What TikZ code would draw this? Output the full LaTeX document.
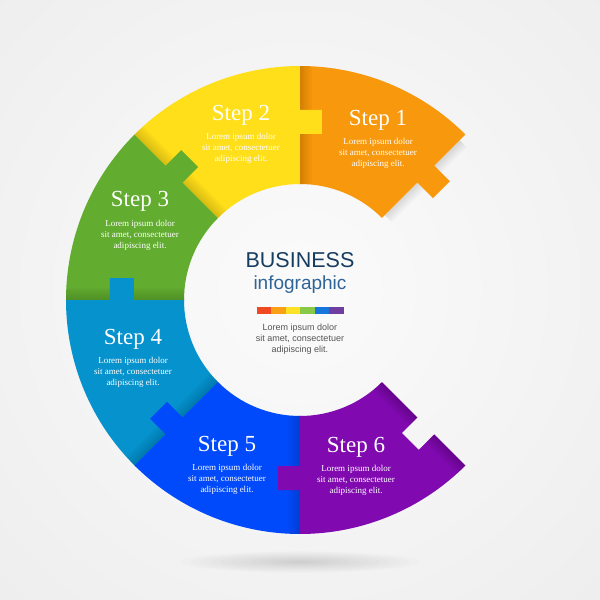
\documentclass[tikz,border=0pt]{standalone}
\usepackage{fontspec}
\setmainfont{Liberation Serif}
\newfontfamily\bizsans{Liberation Sans}
\usetikzlibrary{calc}
\definecolor{cOrange}{RGB}{248,152,12}
\definecolor{cYellow}{RGB}{255,222,26}
\definecolor{cGreen}{RGB}{98,172,48}
\definecolor{cLBlue}{RGB}{6,146,204}
\definecolor{cBlue}{RGB}{0,74,252}
\definecolor{cPurple}{RGB}{128,10,176}
\definecolor{bgCenter}{RGB}{251,251,251}
\definecolor{bgEdge}{RGB}{234,234,234}
\definecolor{tBiz}{RGB}{22,60,96}
\definecolor{tInfo}{RGB}{46,100,150}
\definecolor{tGray}{RGB}{85,85,85}
\definecolor{b1}{RGB}{240,72,32}
\definecolor{b2}{RGB}{250,160,22}
\definecolor{b3}{RGB}{255,226,40}
\definecolor{b4}{RGB}{138,200,72}
\definecolor{b5}{RGB}{22,118,222}
\definecolor{b6}{RGB}{112,62,160}
\newcommand\segfill[2]{%
  \fill[#2] (#1:116pt) -- (#1:166pt) -- ($(#1:166pt)+(#1-90:22pt)$) -- ($(#1:190pt)+(#1-90:22pt)$) -- (#1:190pt) -- (#1:234pt)
    arc[start angle=#1, end angle=#1+45.6, radius=234pt] -- (#1+45.6:116pt)
    arc[start angle=#1+45.6, end angle=#1, radius=116pt] -- cycle;}
\newcommand\sectorclip[1]{%
  \clip (#1:116pt) -- (#1:234pt) arc[start angle=#1, end angle=#1+45, radius=234pt] -- (#1+45:116pt)
    arc[start angle=#1+45, end angle=#1, radius=116pt] -- cycle;}
\newcommand\edgestrips[3]{% line angle, opacity, count
  \foreach \k [evaluate=\k as \dd using 2*\k] in {1,...,#3} {
    \fill[black, opacity=#2] (#1:100pt) -- (#1:250pt) -- ($(#1:250pt)+(#1-90:\dd pt)$) -- ($(#1:100pt)+(#1-90:\dd pt)$) -- cycle;}}
\tikzset{
  steptitle/.style={text=white, font=\fontsize{23}{23}\selectfont, anchor=base, inner sep=0pt},
  steptext/.style={text=white, font=\fontsize{9}{11}\selectfont, align=center, inner sep=0pt},
  bartile/.style={minimum width=14.5pt, minimum height=7pt, inner sep=0pt, anchor=west}
}
\begin{document}
\begin{tikzpicture}[x=1pt,y=1pt]
\useasboundingbox (-300,-300) rectangle (300,300);
% background
\fill[bgEdge] (-300,-300) rectangle (300,300);
\shade[inner color=bgCenter, outer color=bgEdge] (0,10) circle (560pt);
% ground shadow
\foreach \k in {1,...,12}
  \fill[black, opacity=0.011] (0,-262) ellipse ({10*\k pt} and {0.9*\k pt});
% curl shadow under orange end
\begin{scope}
  \clip (15:120pt) -- (15:226pt) arc[start angle=15, end angle=45, radius=226pt] -- (45:120pt) arc[start angle=45, end angle=15, radius=120pt] -- cycle;
  \edgestrips{45}{0.025}{5}
\end{scope}
% segments with fold shadows
\segfill{45}{cOrange}
\begin{scope}\sectorclip{45}\edgestrips{90}{0.022}{6}\end{scope}
\segfill{90}{cYellow}
\begin{scope}\sectorclip{90}\edgestrips{135}{0.022}{6}\end{scope}
\segfill{135}{cGreen}
\begin{scope}\sectorclip{135}\edgestrips{180}{0.022}{6}\end{scope}
\segfill{180}{cLBlue}
\begin{scope}\sectorclip{180}\edgestrips{225}{0.022}{6}\end{scope}
\segfill{225}{cBlue}
\begin{scope}\sectorclip{225}\edgestrips{270}{0.022}{6}\end{scope}
% purple with notch
\fill[cPurple] (270:116pt) -- (270:166pt) -- ($(270:166pt)+(180:22pt)$) -- ($(270:190pt)+(180:22pt)$) -- (270:190pt) -- (270:234pt)
  arc[start angle=270, end angle=315, radius=234pt] -- (315:190pt) -- ($(315:190pt)+(225:22pt)$) -- ($(315:166pt)+(225:22pt)$) -- (315:166pt) -- (315:116pt)
  arc[start angle=315, end angle=270, radius=116pt] -- cycle;
\begin{scope}
  \clip (270:116pt) -- (270:234pt) arc[start angle=270, end angle=315, radius=234pt] -- (315:190pt) -- ($(315:190pt)+(225:22pt)$) -- ($(315:166pt)+(225:22pt)$) -- (315:166pt) -- (315:116pt) arc[start angle=315, end angle=270, radius=116pt] -- cycle;
  \edgestrips{315}{0.03}{6}
\end{scope}
% step texts
\node[steptitle] (t1) at (78,174.5) {Step 1};
\node[steptext] (d1) at (78,147) {Lorem ipsum dolor\\sit amet, consectetuer\\adipiscing elit.};
\node[steptitle] (t2) at (-59,179.5) {Step 2};
\node[steptext] (d2) at (-59,152) {Lorem ipsum dolor\\sit amet, consectetuer\\adipiscing elit.};
\node[steptitle] (t3) at (-160,93.5) {Step 3};
\node[steptext] (d3) at (-160,65) {Lorem ipsum dolor\\sit amet, consectetuer\\adipiscing elit.};
\node[steptitle] (t4) at (-167,-44.5) {Step 4};
\node[steptext] (d4) at (-167,-72) {Lorem ipsum dolor\\sit amet, consectetuer\\adipiscing elit.};
\node[steptitle] (t5) at (-73,-151.5) {Step 5};
\node[steptext] (d5) at (-73,-179) {Lorem ipsum dolor\\sit amet, consectetuer\\adipiscing elit.};
\node[steptitle] (t6) at (56,-152.5) {Step 6};
\node[steptext] (d6) at (56,-180) {Lorem ipsum dolor\\sit amet, consectetuer\\adipiscing elit.};
% centre
\node[text=tBiz, font=\bizsans\fontsize{21.5}{22}\selectfont, inner sep=0pt] (biz) at (0,40) {BUSINESS};
\node[text=tInfo, font=\bizsans\fontsize{19}{20}\selectfont, inner sep=0pt] (info) at (0,15) {infographic};
\node[bartile, fill=b1] (c1) at (-43.5,-10.5) {};
\node[bartile, fill=b2] (c2) at (-29,-10.5) {};
\node[bartile, fill=b3] (c3) at (-14.5,-10.5) {};
\node[bartile, fill=b4] (c4) at (0,-10.5) {};
\node[bartile, fill=b5] (c5) at (14.5,-10.5) {};
\node[bartile, fill=b6] (c6) at (29,-10.5) {};
\node[text=tGray, font=\bizsans\fontsize{9}{10.8}\selectfont, align=center, inner sep=0pt] (cd) at (0,-39) {Lorem ipsum dolor\\sit amet, consectetuer\\adipiscing elit.};
\end{tikzpicture}
\end{document}
